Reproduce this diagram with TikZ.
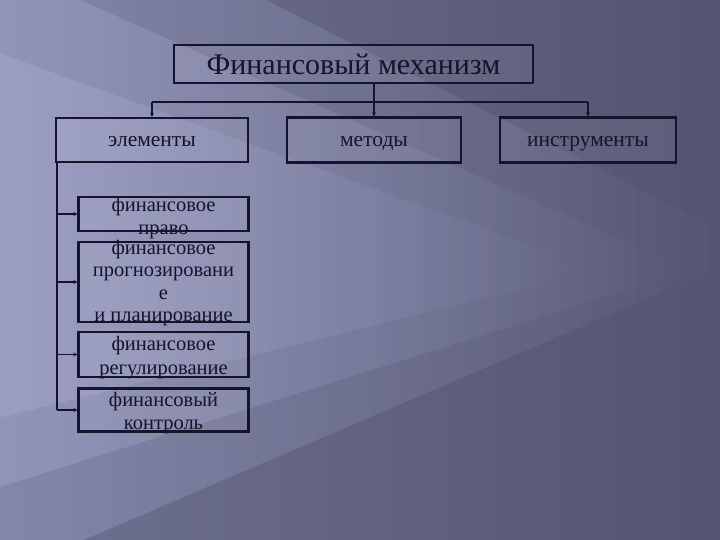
\documentclass[tikz,border=0pt]{standalone}
\usepackage{fontspec}
\setmainfont{Liberation Serif}
\usetikzlibrary{arrows.meta,fadings}
\definecolor{bglight}{HTML}{B2B5DA}
\definecolor{bgleft}{HTML}{707292}
\definecolor{bgdark}{HTML}{525470}
\definecolor{ink}{HTML}{14142A}
\tikzfading[name=beamfade, left color=transparent!0, middle color=transparent!60, right color=transparent!100]
\tikzset{
  boxstyle/.style={draw=ink, line width=2.4pt, fill=white, fill opacity=0.06, text opacity=1, inner sep=0pt},
  txt/.style={text=ink, align=center, inner sep=0pt},
  link/.style={draw=ink, line width=1.1pt},
  arr/.style={link, -{Stealth[length=4pt,width=4pt]}},
  beam/.style={fill=bglight, path fading=beamfade, fill opacity=0.32},
}
\begin{document}
\begin{tikzpicture}[x=1pt,y=-1pt]
\useasboundingbox (0,0) rectangle (720,540);
\shade[left color=bgleft, right color=bgdark] (0,0) rectangle (720,540);
\begin{scope}
\clip (0,0) rectangle (720,540);
\fill[beam] (-10,-140) -- (760,250) -- (-10,580) -- cycle;
\fill[beam] (-10,-40) -- (690,270) -- (-10,490) -- cycle;
\fill[beam] (-10,50) -- (600,270) -- (-10,420) -- cycle;
\end{scope}
% boxes
\node[boxstyle, minimum width=359pt, minimum height=38pt] (title) at (353.5,64) {};
\node[boxstyle, minimum width=192pt, minimum height=44pt] (elem) at (152,140) {};
\node[boxstyle, minimum width=174pt, minimum height=45pt] (meth) at (374,140) {};
\node[boxstyle, minimum width=176pt, minimum height=45pt] (instr) at (588,140) {};
\node[boxstyle, minimum width=170pt, minimum height=34pt] (s1) at (163.5,214) {};
\node[boxstyle, minimum width=170pt, minimum height=80pt] (s2) at (163.5,282) {};
\node[boxstyle, minimum width=170pt, minimum height=45pt] (s3) at (163.5,354.5) {};
\node[boxstyle, minimum width=170pt, minimum height=43pt] (s4) at (163.5,410) {};
% texts
\node[txt, anchor=base, font=\fontsize{30}{34}\selectfont] (ttitle) at (353.5,75) {Финансовый механизм};
\node[txt, anchor=base, font=\fontsize{21.5}{24}\selectfont] (telem) at (152,147) {элементы};
\node[txt, anchor=base, font=\fontsize{21.5}{24}\selectfont] (tmeth) at (374,147) {методы};
\node[txt, anchor=base, font=\fontsize{21.5}{24}\selectfont] (tinstr) at (588,147) {инструменты};
\node[txt, font=\fontsize{20.5}{22.5}\selectfont] (t1) at (163.5,218) {финансовое\\право};
\node[txt, font=\fontsize{20.5}{22.5}\selectfont] (t2) at (163.5,283) {финансовое\\прогнозировани\\е\\и планирование};
\node[txt, font=\fontsize{20.5}{24}\selectfont] (t3) at (163.5,357.5) {финансовое\\регулирование};
\node[txt, font=\fontsize{20.5}{23}\selectfont] (t4) at (163.5,413.5) {финансовый\\контроль};
% connectors
\coordinate (bar) at (0,102);
\coordinate (spine) at (57,162);
\coordinate (bot) at (57,410);
\draw[arr] (title.south -| meth.north) -- (meth.north);
\draw[link] (bar -| elem.north) -- (bar -| instr.north);
\draw[arr] (bar -| elem.north) -- (elem.north);
\draw[arr] (bar -| instr.north) -- (instr.north);
\draw[link] (spine) -- (bot);
\draw[arr] (spine |- s1.west) -- (s1.west);
\draw[arr] (spine |- s2.west) -- (s2.west);
\draw[arr] (spine |- s3.west) -- (s3.west);
\draw[arr] (bot) -- (bot -| s4.west);
\end{tikzpicture}
\end{document}
